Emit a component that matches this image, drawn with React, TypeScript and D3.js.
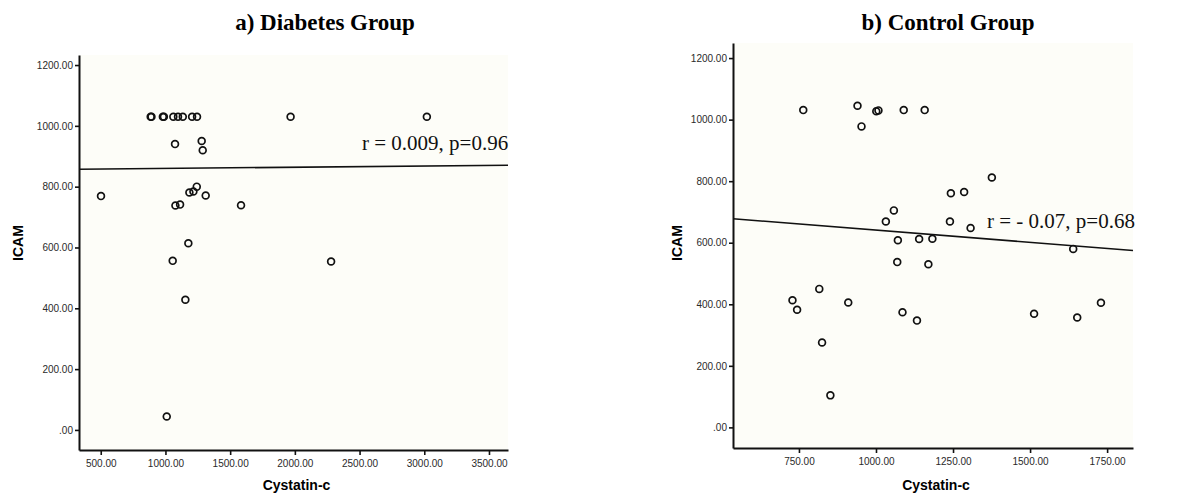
import React, { useRef, useEffect } from "react";
import * as d3 from "d3";

// a) Diabetes group: Cystatin-c vs ICAM
const diabetesCystatin = [
  886, 892, 980, 988, 1061, 1097, 1134, 1206, 1244, 1967, 3020,
  1074, 1280, 1288,
  502, 1077, 1113, 1185, 1216, 1242, 1311, 1584,
  1177, 1056, 2280, 1154, 1010,
];
const diabetesIcam = [
  1030, 1030, 1030, 1030, 1030, 1030, 1030, 1030, 1030, 1030, 1030,
  940, 950, 920,
  769, 738, 741, 781, 784, 800, 771, 739,
  614, 556, 554, 428, 44,
];

// b) Control group
const controlCystatin = [
  764, 940, 953, 1001, 1008, 1090, 1158, 1376, 1243, 1286,
  1058, 1032, 1240, 1307, 1071, 1140, 1183, 1640, 1069, 1170,
  816, 729, 744, 910, 1086, 1133, 825, 852, 1513, 1653, 1730,
];
const controlIcam = [
  1031, 1045, 978, 1027, 1030, 1031, 1031, 812, 761, 765,
  705, 669, 669, 648, 608, 612, 613, 580, 537, 530,
  450, 413, 382, 406, 374, 347, 276, 104, 369, 357, 405,
];

// fit lines (intercept, slope) and labels
const diabetesFit = [856, 0.004];
const controlFit = [720.5, -0.0794];
const titles = ["a) Diabetes Group", "b) Control Group"];
const statLabels = ["r = 0.009, p=0.96", "r = - 0.07, p=0.68"];
const diabetesXTicks = [500, 1000, 1500, 2000, 2500, 3000, 3500];
const controlXTicks = [750, 1000, 1250, 1500, 1750];
const yTicks = [0, 200, 400, 600, 800, 1000, 1200];

const fmt = (d: number) => (d === 0 ? ".00" : d.toFixed(2));

function App() {
  const ref = useRef<SVGSVGElement>(null);

  useEffect(() => {
    const svg = d3.select(ref.current);
    svg.selectAll("*").remove();

    const panels = [
      {
        xs: diabetesCystatin, ys: diabetesIcam, fit: diabetesFit, xt: diabetesXTicks,
        xd: [332, 3647], xr: [79, 508], yd: [-66, 1233], yr: [450, 55],
        title: titles[0], tx: 325, stat: statLabels[0], sx: 362, sy: 150, ylx: 18,
      },
      {
        xs: controlCystatin, ys: controlIcam, fit: controlFit, xt: controlXTicks,
        xd: [536, 1834], xr: [733, 1133], yd: [-67, 1249], yr: [448, 43],
        title: titles[1], tx: 948, stat: statLabels[1], sx: 987, sy: 228, ylx: 677,
      },
    ];

    panels.forEach((p) => {
      const x = d3.scaleLinear().domain(p.xd).range(p.xr);
      const y = d3.scaleLinear().domain(p.yd).range(p.yr);
      const g = svg.append("g");

      g.append("rect")
        .attr("x", p.xr[0])
        .attr("y", p.yr[1])
        .attr("width", p.xr[1] - p.xr[0])
        .attr("height", p.yr[0] - p.yr[1])
        .style("fill", "#fdfdf8");

      const xAxis = g
        .append("g")
        .attr("transform", `translate(0,${p.yr[0]})`)
        .call(d3.axisBottom(x).tickValues(p.xt).tickFormat(fmt).tickSizeOuter(0).tickSizeInner(5).tickPadding(5));
      const yAxis = g
        .append("g")
        .attr("transform", `translate(${p.xr[0]},0)`)
        .call(d3.axisLeft(y).tickValues(yTicks).tickFormat(fmt).tickSizeOuter(0).tickSizeInner(4).tickPadding(2));
      [xAxis, yAxis].forEach((a) => {
        a.select(".domain").style("stroke", "#111").style("stroke-width", 2);
        a.selectAll(".tick line").style("stroke", "#111").style("stroke-width", 1.6);
        a.selectAll(".tick text")
          .style("font-family", "'Liberation Sans', Arial, sans-serif")
          .style("font-size", "10px")
          .style("fill", "#2a2a2a");
      });

      const line = d3
        .line<number>()
        .x((d) => x(d))
        .y((d) => y(p.fit[0] + p.fit[1] * d));
      g.append("path")
        .datum(p.xd)
        .attr("d", line)
        .style("fill", "none")
        .style("stroke", "#111")
        .style("stroke-width", 1.6);

      g.selectAll("circle.pt")
        .data(p.xs)
        .enter()
        .append("circle")
        .attr("class", "pt")
        .attr("cx", (d) => x(d))
        .attr("cy", (d, i) => y(p.ys[i]))
        .attr("r", 3.4)
        .style("fill", "none")
        .style("stroke", "#111")
        .style("stroke-width", 1.7);

      g.append("text")
        .attr("x", p.tx)
        .attr("y", 30)
        .attr("text-anchor", "middle")
        .style("font-family", "'Liberation Serif', 'Times New Roman', serif")
        .style("font-weight", "bold")
        .style("font-size", "23px")
        .text(p.title);

      g.append("text")
        .attr("x", p.sx)
        .attr("y", p.sy)
        .style("font-family", "'Liberation Serif', 'Times New Roman', serif")
        .style("font-size", "21px")
        .style("fill", "#111")
        .text(p.stat);

      g.append("text")
        .attr("x", (p.xr[0] + p.xr[1]) / 2 + 3)
        .attr("y", 490)
        .attr("text-anchor", "middle")
        .style("font-family", "'Liberation Sans', Arial, sans-serif")
        .style("font-weight", "bold")
        .style("font-size", "14px")
        .text("Cystatin-c");

      g.append("text")
        .attr("transform", `translate(${p.ylx + 5},243) rotate(-90)`)
        .attr("text-anchor", "middle")
        .style("font-family", "'Liberation Sans', Arial, sans-serif")
        .style("font-weight", "bold")
        .style("font-size", "14px")
        .text("ICAM");
    });
  }, []);

  return (
    <svg
      ref={ref}
      width="1199"
      height="495"
      style={{ position: "absolute", left: 0, top: 0, background: "#fff" }}
    ></svg>
  );
}

export default App;
